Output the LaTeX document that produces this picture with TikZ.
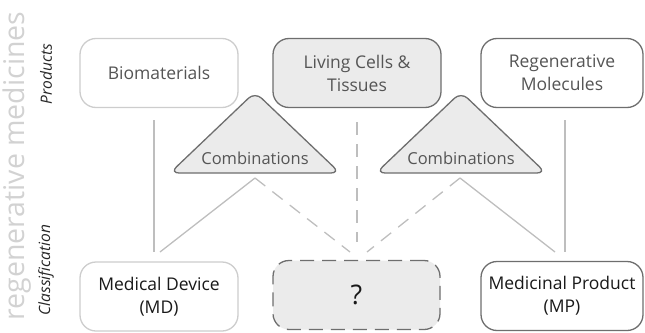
\documentclass[tikz,border=0pt]{standalone}
\usepackage{fontspec}
\setmainfont{Open Sans}
\definecolor{fillgray}{HTML}{EBEBEB}
\definecolor{darkline}{HTML}{6E6E6E}
\definecolor{lightline}{HTML}{CDCDCD}
\definecolor{linkgray}{HTML}{BEBEBE}
\definecolor{softtext}{HTML}{555555}
\definecolor{watermark}{HTML}{D2D2D2}
\begin{document}
\begin{tikzpicture}[x=1pt,y=-1pt,
  box/.style={rounded corners=16pt, line width=1.3pt, align=center,
    minimum height=69pt, inner sep=0pt, font=\fontsize{17.5}{23}\selectfont},
  pale/.style={box, draw=lightline, fill=white, text=softtext},
  strong/.style={box, draw=darkline, fill=white, text=softtext},
  shaded/.style={box, draw=darkline, fill=fillgray, text=softtext},
  classbox/.style={box, text=black!90},
  tri/.style={draw=darkline, fill=fillgray, line width=1.3pt, rounded corners=9pt},
  trilabel/.style={text=softtext, inner sep=0pt, font=\fontsize{16.5}{18}\selectfont},
  link/.style={draw=linkgray, line width=1.3pt},
  dashlink/.style={link, dash pattern=on 13pt off 9pt},
  side/.style={rotate=90, inner sep=0pt, font=\fontsize{15.5}{18}\selectfont\itshape, text=black!85},
]
\useasboundingbox (0,0) rectangle (645,332);

% side captions
\node[rotate=90, inner sep=0pt, text=watermark, font=\fontsize{28.5}{30}\selectfont]
  (title) at (17,166) {regenerative medicines};
\node[side] (prodlabel) at (46,74) {Products};
\node[side] (classlabel) at (46,270) {Classification};

% product row
\node[pale, minimum width=158pt] (bio) at (159,73) {Biomaterials};
\node[shaded, minimum width=168pt] (cells) at (357,73) {Living Cells \&\\Tissues};
\node[strong, minimum width=162pt] (mol) at (562,73) {Regenerative\\Molecules};

% classification row
\node[classbox, draw=lightline, fill=white, minimum width=158pt] (md) at (159,296.5) {Medical Device\\(MD)};
\node[classbox, draw=darkline, fill=fillgray, dash pattern=on 14pt off 8pt, minimum width=167pt, font=\fontsize{27}{28}\selectfont] (unknown) at (356.5,295) {?};
\node[classbox, draw=darkline, fill=white, minimum width=162pt] (mp) at (562,296) {Medicinal Product\\(MP)};

% combination triangles
\path[tri] (255,92) -- (340,173) -- (170,173) -- cycle;
\node[trilabel] (combL) at (255,158) {Combinations};
\path[tri] (461,92) -- (546,173) -- (376,173) -- cycle;
\node[trilabel] (combR) at (461,158) {Combinations};

% connector ends
\coordinate (bioTop) at (154,120);
\coordinate (bioEnd) at (154,252);
\coordinate (cellTop) at (357,122);
\coordinate (cellEnd) at (357,242);
\coordinate (molTop) at (565,120);
\coordinate (molEnd) at (565,252);
\coordinate (combLfoot) at (255,178);
\coordinate (combRfoot) at (460,178);
\coordinate (mdIn) at (160,252);
\coordinate (unkL) at (350,252);
\coordinate (unkR) at (367,252);
\coordinate (mpIn) at (555,252);

% connectors
\draw[link] (bioTop) -- (bioEnd);
\draw[link] (molTop) -- (molEnd);
\draw[dashlink] (cellTop) -- (cellEnd);
\draw[link] (combLfoot) -- (mdIn);
\draw[dashlink] (combLfoot) -- (unkL);
\draw[dashlink] (combRfoot) -- (unkR);
\draw[link] (combRfoot) -- (mpIn);
\end{tikzpicture}
\end{document}
